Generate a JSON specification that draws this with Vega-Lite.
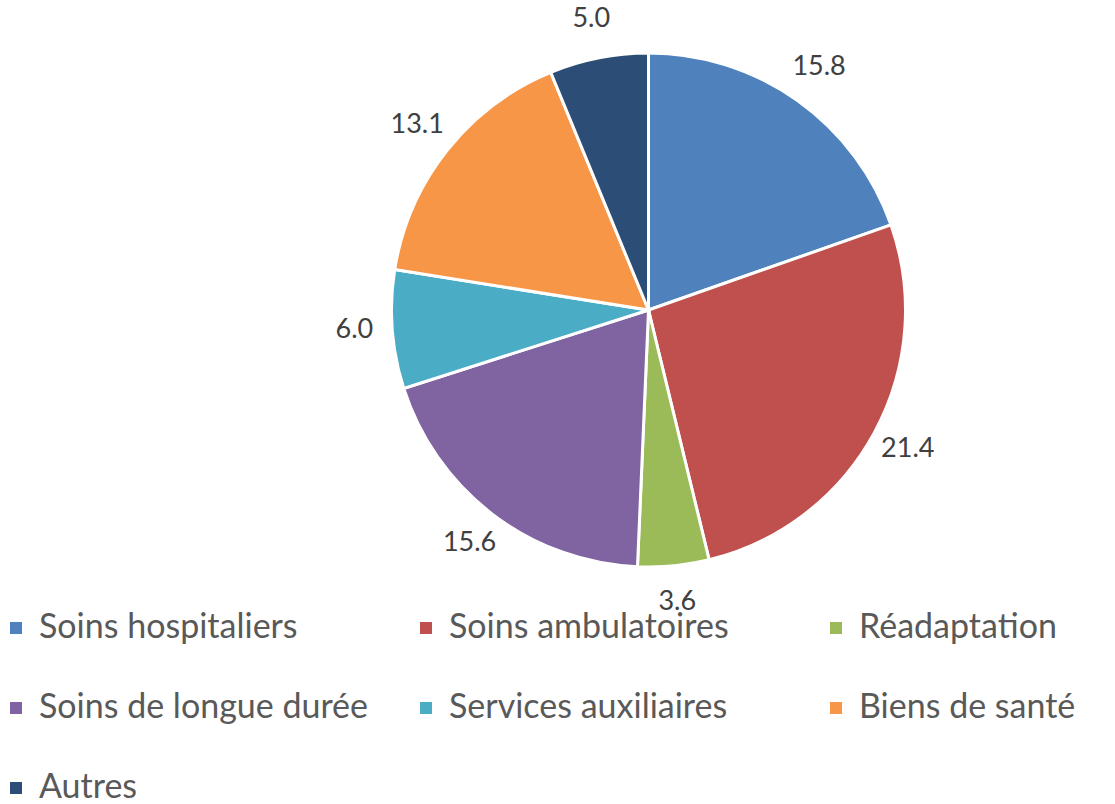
{
  "$schema": "https://vega.github.io/schema/vega-lite/v6.json",
  "width": 933,
  "height": 620,
  "autosize": {"type": "none"},
  "padding": {"left": 182, "top": 0, "right": 0, "bottom": 184},
  "background": "white",
  "config": {"view": {"stroke": null}, "font": "Lato"},
  "data": {
    "values": [
      {"categorie": "Soins hospitaliers", "valeur": 15.8, "rang": 1},
      {"categorie": "Soins ambulatoires", "valeur": 21.4, "rang": 2},
      {"categorie": "Réadaptation", "valeur": 3.6, "rang": 3},
      {"categorie": "Soins de longue durée", "valeur": 15.6, "rang": 4},
      {"categorie": "Services auxiliaires", "valeur": 6.0, "rang": 5},
      {"categorie": "Biens de santé", "valeur": 13.1, "rang": 6},
      {"categorie": "Autres", "valeur": 5.0, "rang": 7}
    ]
  },
  "encoding": {
    "theta": {"field": "valeur", "type": "quantitative", "stack": true},
    "order": {"field": "rang", "type": "quantitative"}
  },
  "layer": [
    {
      "mark": {"type": "arc", "outerRadius": 257, "stroke": "white", "strokeWidth": 3},
      "encoding": {
        "color": {
          "field": "categorie",
          "type": "nominal",
          "sort": null,
          "scale": {
            "domain": ["Soins hospitaliers", "Soins ambulatoires", "Réadaptation", "Soins de longue durée", "Services auxiliaires", "Biens de santé", "Autres"],
            "range": ["#4F81BD", "#C0504D", "#9BBB59", "#8064A2", "#4BACC6", "#F79646", "#2C4D75"]
          },
          "legend": {
            "title": null,
            "orient": "none",
            "legendX": -183,
            "legendY": 611,
            "direction": "horizontal",
            "columns": 3,
            "gridAlign": "all",
            "columnPadding": 40,
            "rowPadding": 46,
            "symbolType": "square",
            "symbolSize": 144,
            "symbolStrokeWidth": 0,
            "symbolOffset": 0,
            "labelOffset": 6,
            "labelFontSize": 34,
            "labelFont": "Lato",
            "labelColor": "#595959",
            "labelLimit": 500
          }
        }
      }
    },
    {
      "mark": {"type": "text", "radius": 295, "fontSize": 27, "font": "Lato", "color": "#404040", "dy": -2},
      "encoding": {
        "text": {"field": "valeur", "type": "quantitative", "format": ".1f"}
      }
    }
  ]
}
